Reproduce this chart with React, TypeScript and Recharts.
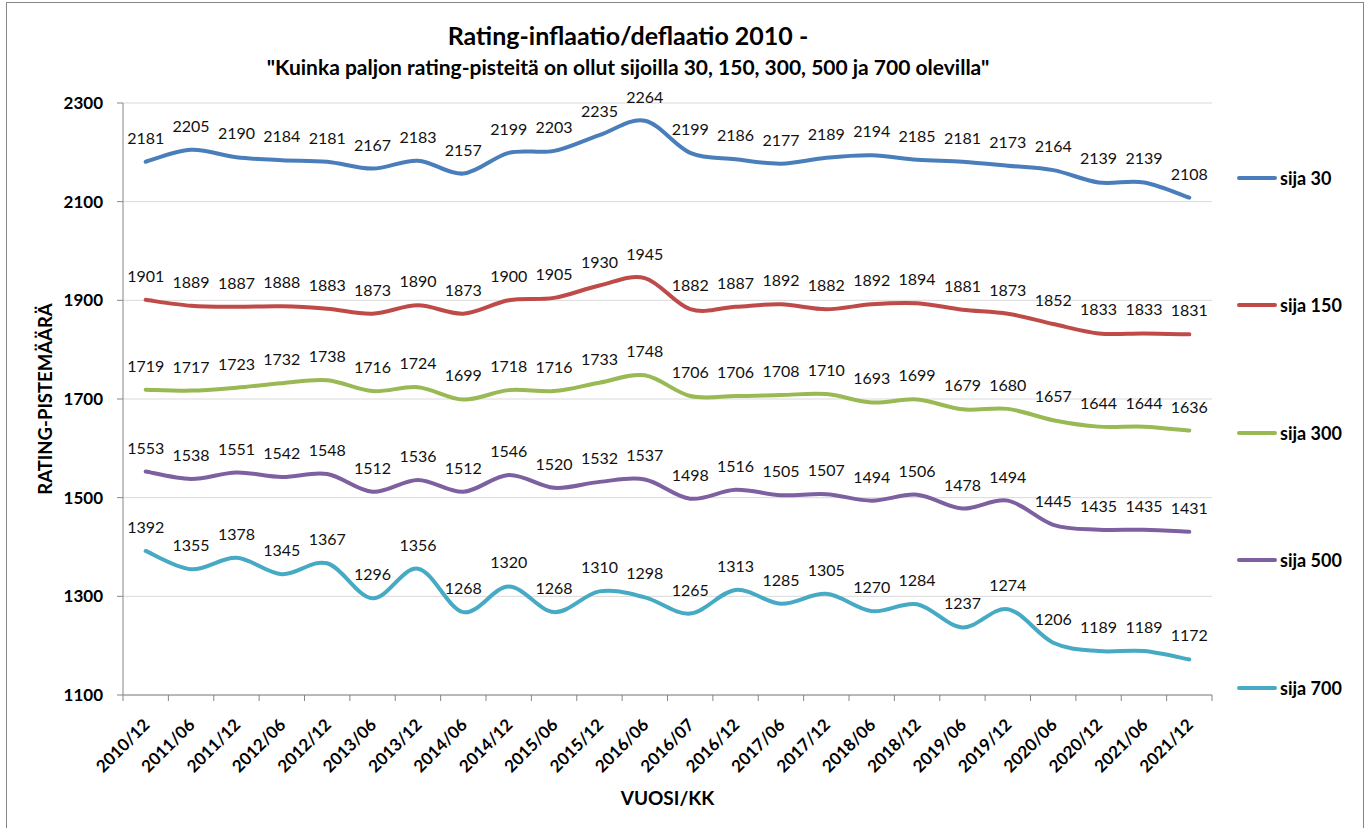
import React from 'react';
import { LineChart, Line, XAxis, YAxis, CartesianGrid } from 'recharts';

const CATEGORIES = [
  '2010/12', '2011/06', '2011/12', '2012/06', '2012/12', '2013/06', '2013/12', '2014/06',
  '2014/12', '2015/06', '2015/12', '2016/06', '2016/07', '2016/12', '2017/06', '2017/12',
  '2018/06', '2018/12', '2019/06', '2019/12', '2020/06', '2020/12', '2021/06', '2021/12',
];

const SIJA_30 = [2181, 2205, 2190, 2184, 2181, 2167, 2183, 2157, 2199, 2203, 2235, 2264, 2199, 2186, 2177, 2189, 2194, 2185, 2181, 2173, 2164, 2139, 2139, 2108];
const SIJA_150 = [1901, 1889, 1887, 1888, 1883, 1873, 1890, 1873, 1900, 1905, 1930, 1945, 1882, 1887, 1892, 1882, 1892, 1894, 1881, 1873, 1852, 1833, 1833, 1831];
const SIJA_300 = [1719, 1717, 1723, 1732, 1738, 1716, 1724, 1699, 1718, 1716, 1733, 1748, 1706, 1706, 1708, 1710, 1693, 1699, 1679, 1680, 1657, 1644, 1644, 1636];
const SIJA_500 = [1553, 1538, 1551, 1542, 1548, 1512, 1536, 1512, 1546, 1520, 1532, 1537, 1498, 1516, 1505, 1507, 1494, 1506, 1478, 1494, 1445, 1435, 1435, 1431];
const SIJA_700 = [1392, 1355, 1378, 1345, 1367, 1296, 1356, 1268, 1320, 1268, 1310, 1298, 1265, 1313, 1285, 1305, 1270, 1284, 1237, 1274, 1206, 1189, 1189, 1172];

const Y_TICKS = [1100, 1300, 1500, 1700, 1900, 2100, 2300];

const SERIES = [
  { key: 'sija30', name: 'sija 30', color: '#4A7EBB', values: SIJA_30 },
  { key: 'sija150', name: 'sija 150', color: '#BE4B48', values: SIJA_150 },
  { key: 'sija300', name: 'sija 300', color: '#98B954', values: SIJA_300 },
  { key: 'sija500', name: 'sija 500', color: '#7D60A0', values: SIJA_500 },
  { key: 'sija700', name: 'sija 700', color: '#46AAC5', values: SIJA_700 },
];

const data = CATEGORIES.map((month, i) => {
  const row: Record<string, any> = { month };
  SERIES.forEach((s) => { row[s.key] = s.values[i]; });
  return row;
});

const FONT = 'Lato, "Open Sans", sans-serif';
const W = 1370;
const H = 828;
const PLOT_LEFT = 123;
const PLOT_RIGHT = 1212;
const PLOT_TOP = 103;
const PLOT_BOTTOM = 695;
const BAND = (PLOT_RIGHT - PLOT_LEFT) / CATEGORIES.length;
const LEGEND_Y = [178, 305, 433, 560, 688];

// Excel-style smoothing (Catmull-Rom through the points)
const excelSmooth = (context: any) => {
  let pts: number[][] = [];
  return {
    areaStart() {},
    areaEnd() {},
    lineStart() { pts = []; },
    point(x: number, y: number) { pts.push([+x, +y]); },
    lineEnd() {
      if (!pts.length) return;
      context.moveTo(pts[0][0], pts[0][1]);
      for (let i = 0; i < pts.length - 1; i++) {
        const p0 = pts[i - 1] || pts[i];
        const p1 = pts[i];
        const p2 = pts[i + 1];
        const p3 = pts[i + 2] || p2;
        context.bezierCurveTo(
          p1[0] + (p2[0] - p0[0]) / 6, p1[1] + (p2[1] - p0[1]) / 6,
          p2[0] - (p3[0] - p1[0]) / 6, p2[1] - (p3[1] - p1[1]) / 6,
          p2[0], p2[1],
        );
      }
    },
  };
};

const renderValue = (props: any) => {
  const { x, y, value, index } = props;
  return (
    <text key={index} x={x} y={y - 18} textAnchor="middle" fontFamily={FONT} fontSize={16} fill="#111">
      {value}
    </text>
  );
};

const XTick = (props: any) => {
  const { x, payload, index } = props;
  const ty = PLOT_BOTTOM + 31;
  return (
    <g>
      <line x1={x - BAND / 2} x2={x - BAND / 2} y1={PLOT_BOTTOM} y2={PLOT_BOTTOM + 6} stroke="#868686" />
      {index === CATEGORIES.length - 1 && (
        <line x1={x + BAND / 2} x2={x + BAND / 2} y1={PLOT_BOTTOM} y2={PLOT_BOTTOM + 6} stroke="#868686" />
      )}
      <text
        x={x + 5}
        y={ty}
        textAnchor="end"
        transform={`rotate(-45, ${x + 5}, ${ty})`}
        fontFamily={FONT}
        fontWeight="bold"
        fontSize={17}
        fill="#000"
      >
        {payload.value}
      </text>
    </g>
  );
};

const YTitle = () => (
  <text
    x={45}
    y={(PLOT_TOP + PLOT_BOTTOM) / 2}
    transform={`rotate(-90, 45, ${(PLOT_TOP + PLOT_BOTTOM) / 2})`}
    textAnchor="middle"
    dominantBaseline="central"
    fontFamily={FONT}
    fontWeight="bold"
    fontSize={18.5}
    fill="#000"
  >
    RATING-PISTEMÄÄRÄ
  </text>
);

const XTitle = () => (
  <text
    x={(PLOT_LEFT + PLOT_RIGHT) / 2}
    y={797}
    textAnchor="middle"
    dominantBaseline="central"
    fontFamily={FONT}
    fontWeight="bold"
    fontSize={19}
    fill="#000"
  >
    VUOSI/KK
  </text>
);

export default function App() {
  return (
    <div style={{ position: 'absolute', left: 0, top: 0, width: W, height: H, background: '#fff', overflow: 'hidden', fontFamily: FONT }}>
      <div style={{ position: 'absolute', left: 6, top: 2, width: 1356, height: 900, border: '1px solid #868686' }} />
      <div style={{ position: 'absolute', left: 0, width: 1256, top: 20, textAlign: 'center', fontWeight: 'bold', fontSize: 25, lineHeight: '30px', color: '#000' }}>
        Rating-inflaatio/deflaatio 2010 -
      </div>
      <div style={{ position: 'absolute', left: 0, width: 1256, top: 54, textAlign: 'center', fontWeight: 'bold', fontSize: 21, lineHeight: '25px', color: '#000' }}>
        "Kuinka paljon rating-pisteitä on ollut sijoilla 30, 150, 300, 500 ja 700 olevilla"
      </div>
      <div style={{ position: 'absolute', left: 0, top: 0 }}>
        <LineChart
          width={W}
          height={H}
          data={data}
          margin={{ top: PLOT_TOP, right: W - PLOT_RIGHT, bottom: 0, left: 0 }}
        >
          <CartesianGrid vertical={false} stroke="#d9d9d9" />
          <XAxis
            dataKey="month"
            interval={0}
            height={H - PLOT_BOTTOM}
            padding={{ left: BAND / 2, right: BAND / 2 }}
            axisLine={{ stroke: '#868686' }}
            tickLine={false}
            tick={<XTick />}
            label={<XTitle />}
          />
          <YAxis
            width={PLOT_LEFT}
            domain={[1100, 2300]}
            ticks={Y_TICKS}
            interval={0}
            axisLine={{ stroke: '#868686' }}
            tickLine={{ stroke: '#868686' }}
            tickSize={6}
            tickMargin={14}
            tick={{ fontFamily: FONT, fontWeight: 'bold', fontSize: 17, fill: '#000' }}
            label={<YTitle />}
          />
          {SERIES.map((s) => (
            <Line
              key={s.key}
              dataKey={s.key}
              name={s.name}
              type={excelSmooth as any}
              stroke={s.color}
              strokeWidth={4}
              strokeLinecap="round"
              dot={false}
              activeDot={false}
              label={renderValue}
              isAnimationActive={false}
            />
          ))}
        </LineChart>
      </div>
      {SERIES.map((s, i) => (
        <div key={s.key} style={{ position: 'absolute', left: 1237, top: LEGEND_Y[i] - 12, height: 24, display: 'flex', alignItems: 'center' }}>
          <span style={{ display: 'inline-block', width: 40, height: 4, borderRadius: 2, background: s.color, marginRight: 3 }} />
          <span style={{ fontWeight: 'bold', fontSize: 18, color: '#000' }}>{s.name}</span>
        </div>
      ))}
    </div>
  );
}
